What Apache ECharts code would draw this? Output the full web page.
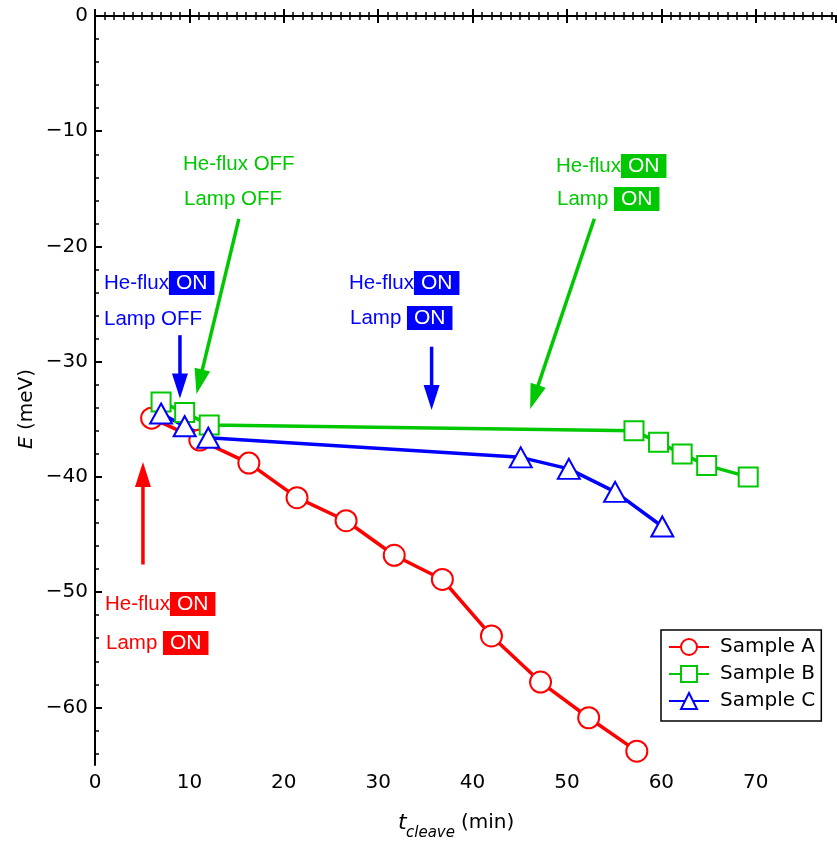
<!DOCTYPE html>
<html><head><meta charset="utf-8">
<script src="https://cdn.jsdelivr.net/npm/echarts@6/dist/echarts.min.js"></script>
<style>html,body{margin:0;padding:0;background:#fff}#c{width:837px;height:843px}</style>
</head><body><div id="c"></div>
<script>
// ---- data ----
const sampleA_x = [6.0, 11.1, 16.3, 21.4, 26.6, 31.7, 36.8, 42.0, 47.2, 52.3, 57.4];
const sampleA_y = [-34.9, -36.8, -38.8, -41.8, -43.8, -46.8, -48.9, -53.8, -57.8, -60.9, -63.8];
const sampleB_x = [7.0, 9.5, 12.1, 57.1, 59.7, 62.2, 64.8, 69.2];
const sampleB_y = [-33.5, -34.4, -35.5, -36.0, -37.0, -38.0, -39.0, -40.0];
const sampleC_x = [7.0, 9.5, 12.0, 45.1, 50.2, 55.1, 60.1];
const sampleC_y = [-34.5, -35.6, -36.6, -38.3, -39.3, -41.3, -44.3];
const seriesNames = ['Sample A', 'Sample B', 'Sample C'];
const yMajorTicks = [-60, -50, -40, -30, -20, -10, 0];
const yMinorTicks = [-64, -62, -58, -56, -54, -52, -48, -46, -44, -42, -38, -36, -34, -32, -28, -26, -24, -22, -18, -16, -14, -12, -8, -6, -4, -2];
const xMinorTicks = [];
for (let v = 0; v <= 78; v++) xMinorTicks.push(v);

const RED = '#ff0000', GREEN = '#00c800', BLUE = '#0000ff';
const zip = (xs, ys) => xs.map((x, i) => [x, ys[i]]);
const fmtMinus = v => String(v).replace('-', '\u2212');

const chart = echarts.init(document.getElementById('c'), null, {renderer: 'canvas'});
const tickFont = {fontFamily: 'DejaVu Sans', fontSize: 20, color: '#000'};

function xAx(pos, major, showLabel) {
  return {
    type: 'value', position: pos, min: 0, max: 78.5, interval: 10,
    axisLine: {show: major, lineStyle: {color: '#000', width: 2}},
    axisTick: major ? {show: true, inside: true, length: 7, lineStyle: {color: '#000', width: 2}}
                    : {show: true, inside: true, length: 4, customValues: xMinorTicks, lineStyle: {color: '#000', width: 1.5}},
    axisLabel: showLabel ? Object.assign({show: true, margin: 8, showMaxLabel: false, formatter: fmtMinus}, tickFont) : {show: false},
    splitLine: {show: false}
  };
}

const option = {
  animation: false,
  backgroundColor: '#fff',
  grid: {left: 95, right: 1, top: 16, bottom: 78, outerBoundsMode: 'none', containLabel: false},
  xAxis: [xAx('bottom', true, true), xAx('bottom', false, false), xAx('top', true, false), xAx('top', false, false)],
  yAxis: [
    {type: 'value', min: -65, max: 0,
     axisLine: {show: true, lineStyle: {color: '#000', width: 2}},
     axisTick: {show: true, inside: true, length: 7, customValues: yMajorTicks, lineStyle: {color: '#000', width: 2}},
     axisLabel: Object.assign({show: true, margin: 7, customValues: yMajorTicks, formatter: fmtMinus}, tickFont),
     splitLine: {show: false}},
    {type: 'value', min: -65, max: 0, position: 'left',
     axisLine: {show: false},
     axisTick: {show: true, inside: true, length: 4, customValues: yMinorTicks, lineStyle: {color: '#000', width: 1.5}},
     axisLabel: {show: false}, splitLine: {show: false}}
  ],
  legend: {
    orient: 'vertical', left: 661, top: 630, padding: [7, 6, 10, 7],
    itemWidth: 40, itemHeight: 20, itemGap: 7,
    borderColor: '#000', borderWidth: 1.5, borderRadius: 0,
    textStyle: {fontFamily: 'DejaVu Sans', fontSize: 20, color: '#000', padding: [0, 0, 0, 6]},
    data: seriesNames
  },
  series: [
    {name: seriesNames[0], type: 'line', data: zip(sampleA_x, sampleA_y), symbol: 'circle', symbolSize: 21,
     itemStyle: {color: '#fff', borderColor: RED, borderWidth: 2}, lineStyle: {color: RED, width: 3.5}},
    {name: seriesNames[1], type: 'line', data: zip(sampleB_x, sampleB_y), symbol: 'rect', symbolSize: 19,
     itemStyle: {color: '#fff', borderColor: GREEN, borderWidth: 2}, lineStyle: {color: GREEN, width: 3.5}},
    {name: seriesNames[2], type: 'line', data: zip(sampleC_x, sampleC_y), symbol: 'triangle', symbolSize: [22, 20],
     itemStyle: {color: '#fff', borderColor: BLUE, borderWidth: 2}, lineStyle: {color: BLUE, width: 3.5}}
  ]
};
chart.setOption(option);

// ---- annotations ----
// arrows in data coordinates: [tailX, tailY, tipX, tipY]
const arrows = [
  {c: RED,   p: [5.08, -47.6, 5.08, -38.7]},
  {c: BLUE,  p: [9.0, -27.7, 9.0, -33.2]},
  {c: BLUE,  p: [35.66, -28.7, 35.66, -34.2]},
  {c: GREEN, p: [15.24, -17.6, 10.75, -32.8]},
  {c: GREEN, p: [52.9, -17.6, 46.1, -34.1]}
];
const graphics = [];
arrows.forEach(a => {
  const S = chart.convertToPixel({xAxisIndex: 0, yAxisIndex: 0}, [a.p[0], a.p[1]]);
  const T = chart.convertToPixel({xAxisIndex: 0, yAxisIndex: 0}, [a.p[2], a.p[3]]);
  const dx = T[0] - S[0], dy = T[1] - S[1], L = Math.hypot(dx, dy);
  const ux = dx / L, uy = dy / L, nx = -uy, ny = ux;
  const hl = 25, hw = 8;
  const B = [T[0] - ux * hl, T[1] - uy * hl];
  graphics.push({type: 'line', z: 50, shape: {x1: S[0], y1: S[1], x2: B[0] + ux * 2, y2: B[1] + uy * 2},
    style: {stroke: a.c, lineWidth: 3.5}});
  graphics.push({type: 'polygon', z: 50, shape: {points: [T, [B[0] + nx * hw, B[1] + ny * hw], [B[0] - nx * hw, B[1] - ny * hw]]},
    style: {fill: a.c}});
});

const annFont = 'Liberation Sans';
function ann(x, y, color, txt, box) {
  const rich = {
    t: {fill: color, fontFamily: annFont, fontSize: 20.5},
    on: {fill: '#fff', fontFamily: annFont, fontSize: 21, backgroundColor: color, padding: [2, 7, 1, 7]}
  };
  graphics.push({type: 'text', z: 60, x: x, y: y,
    style: {text: box ? '{t|' + txt + '}{on|ON}' : '{t|' + txt + '}', rich: rich, verticalAlign: 'middle', align: 'left'}});
}
ann(183, 164, GREEN, 'He-flux OFF', false);
ann(184, 199, GREEN, 'Lamp OFF', false);
ann(104, 283, BLUE, 'He-flux', true);
ann(104, 319, BLUE, 'Lamp OFF', false);
ann(349, 283, BLUE, 'He-flux', true);
ann(350, 318, BLUE, 'Lamp ', true);
ann(556, 166, GREEN, 'He-flux', true);
ann(557, 199, GREEN, 'Lamp ', true);
ann(105, 604, RED, 'He-flux', true);
ann(106, 643, RED, 'Lamp ', true);

// axis titles
graphics.push({type: 'text', x: 398, y: 823, style: {text: 't', fill: '#000', fontFamily: 'DejaVu Sans', fontSize: 22, fontStyle: 'italic', verticalAlign: 'middle', align: 'left'}});
graphics.push({type: 'text', x: 406, y: 833, style: {text: 'cleave', fill: '#000', fontFamily: 'DejaVu Sans', fontSize: 15, fontStyle: 'italic', verticalAlign: 'middle', align: 'left'}});
graphics.push({type: 'text', x: 461, y: 823, style: {text: '(min)', fill: '#000', fontFamily: 'DejaVu Sans', fontSize: 20, verticalAlign: 'middle', align: 'left'}});
graphics.push({type: 'text', x: 27, y: 409, rotation: Math.PI / 2,
  style: {text: '{i|E} (meV)', rich: {i: {fontStyle: 'italic', fontFamily: 'DejaVu Sans', fontSize: 20, fill: '#000'}},
    fill: '#000', fontFamily: 'DejaVu Sans', fontSize: 20, verticalAlign: 'middle', align: 'center'}});

chart.setOption({graphic: graphics});
</script></body></html>
